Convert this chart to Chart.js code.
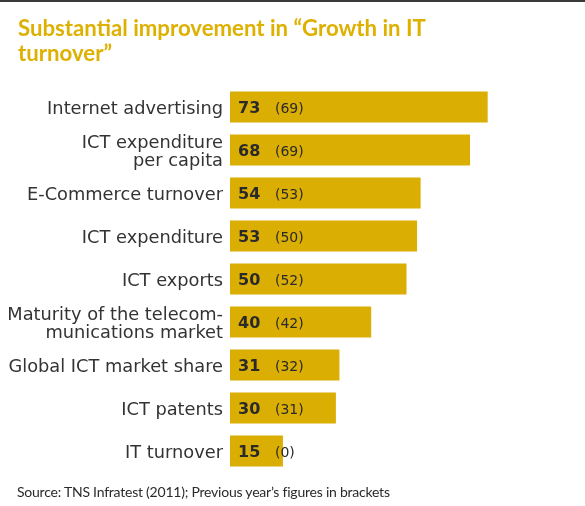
<!DOCTYPE html>
<html>
<head>
<meta charset="utf-8">
<script src="https://cdn.jsdelivr.net/npm/chart.js@4.4.1/dist/chart.umd.min.js"></script>
<style>
  html, body { margin: 0; padding: 0; background: #fff; }
  .wrap { position: relative; width: 585px; height: 506px; overflow: hidden; }
  .rule { position: absolute; left: 0; top: 0; width: 585px; height: 2px; background: #3a3a3a; }
  .title { position: absolute; left: 18px; top: 15px; font: bold 22.2px Lato, sans-serif; line-height: 25px; color: #deb000; }
  .source { position: absolute; left: 17px; top: 483px; font: 14px Lato, sans-serif; letter-spacing: -0.23px; color: #2a2a2a; }
  canvas { position: absolute; left: 0; top: 0; }
</style>
</head>
<body>
<div class="wrap">
  <div class="rule"></div>
  <canvas id="chart" width="585" height="506"></canvas>
  <div class="title">Substantial improvement in “Growth in IT<br>turnover”</div>
  <div class="source">Source: TNS Infratest (2011); Previous year’s figures in brackets</div>
</div>
<script>
const CATEGORIES = [
  'Internet advertising',
  ['ICT expenditure', 'per capita'],
  'E-Commerce turnover',
  'ICT expenditure',
  'ICT exports',
  ['Maturity of the telecom-', 'munications market'],
  'Global ICT market share',
  'ICT patents',
  'IT turnover',
];
const CURRENT = [73, 68, 54, 53, 50, 40, 31, 30, 15];
const PREVIOUS = [69, 69, 53, 50, 52, 42, 32, 31, 0];
const GOLD = '#dbae04';
const LABEL_FONT = '17.8px "DejaVu Sans", sans-serif';
const LABEL_LINE = 18;

// category names sit a touch below the bar centre, so they are drawn here
// from the y scale's tick positions instead of by the axis itself
const categoryLabels = {
  id: 'categoryLabels',
  afterDraw(chart) {
    const ctx = chart.ctx;
    const y = chart.scales.y;
    ctx.save();
    ctx.font = LABEL_FONT;
    ctx.fillStyle = '#333';
    ctx.textAlign = 'right';
    ctx.textBaseline = 'middle';
    y.ticks.forEach((t, i) => {
      const lines = [].concat(chart.data.labels[i]);
      const cy = y.getPixelForTick(i) + 2;
      lines.forEach((line, j) => {
        ctx.fillText(line, y.right - 7, cy + (j - (lines.length - 1) / 2) * LABEL_LINE);
      });
    });
    ctx.restore();
  },
};

// writes the bold score and the bracketed previous-year figure onto each bar
const valueLabels = {
  id: 'valueLabels',
  afterDatasetsDraw(chart) {
    const ctx = chart.ctx;
    const x0 = chart.scales.x.getPixelForValue(0);
    const meta = chart.getDatasetMeta(0);
    ctx.save();
    ctx.textBaseline = 'middle';
    ctx.textAlign = 'left';
    ctx.fillStyle = '#2a2a2a';
    meta.data.forEach((bar, i) => {
      ctx.font = 'bold 16px "DejaVu Sans", sans-serif';
      ctx.fillText(String(CURRENT[i]), x0 + 8, bar.y + 1.5);
      ctx.font = '14px "DejaVu Sans", sans-serif';
      ctx.fillText('(' + PREVIOUS[i] + ')', x0 + 45, bar.y + 2);
    });
    ctx.restore();
  },
};

new Chart(document.getElementById('chart'), {
  type: 'bar',
  data: {
    labels: CATEGORIES,
    datasets: [{
      data: CURRENT,
      backgroundColor: GOLD,
      borderWidth: 0,
      barPercentage: 1,
      categoryPercentage: 0.72,
    }],
  },
  options: {
    indexAxis: 'y',
    responsive: false,
    animation: false,
    layout: { padding: { top: 85.5, bottom: 33.5, left: 0, right: 2 } },
    plugins: { legend: { display: false }, tooltip: { enabled: false } },
    scales: {
      x: { display: false, min: 0, max: 100 },
      y: {
        grid: { display: false, drawTicks: false },
        border: { display: false },
        ticks: { display: false },
        afterFit(scale) { scale.width = 230; },
      },
    },
  },
  plugins: [valueLabels, categoryLabels],
});
</script>
</body>
</html>
